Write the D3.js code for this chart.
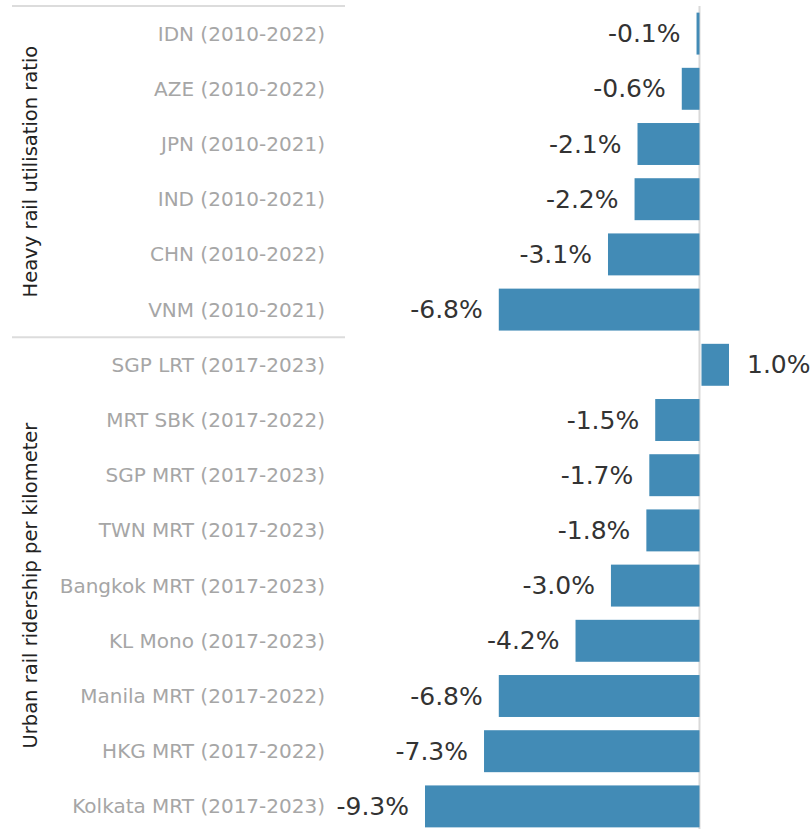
<!DOCTYPE html>
<html>
<head>
<meta charset="utf-8">
<script src="https://cdn.jsdelivr.net/npm/d3@7"></script>
<style>
  body { margin: 0; background: #fff; }
  svg text { font-family: "DejaVu Sans", sans-serif; }
</style>
</head>
<body>
<div id="chart"></div>
<script>
var WIDTH = 810;
var HEIGHT = 829;

// chart data
var groups = ["Heavy rail utilisation ratio", "Urban rail ridership per kilometer"];
var heavyRail = ["IDN (2010-2022)", "AZE (2010-2022)", "JPN (2010-2021)",
  "IND (2010-2021)", "CHN (2010-2022)", "VNM (2010-2021)"];
var heavyRailValues = [-0.1, -0.6, -2.1, -2.2, -3.1, -6.8];
var urbanRail = ["SGP LRT (2017-2023)", "MRT SBK (2017-2022)", "SGP MRT (2017-2023)",
  "TWN MRT (2017-2023)", "Bangkok MRT (2017-2023)", "KL Mono (2017-2023)",
  "Manila MRT (2017-2022)", "HKG MRT (2017-2022)", "Kolkata MRT (2017-2023)"];
var urbanRailValues = [1.0, -1.5, -1.7, -1.8, -3.0, -4.2, -6.8, -7.3, -9.3];

var rows = [];
heavyRail.forEach(function(name, i) {
  rows.push({ group: groups[0], name: name, value: heavyRailValues[i] });
});
urbanRail.forEach(function(name, i) {
  rows.push({ group: groups[1], name: name, value: urbanRailValues[i] });
});

var svg = d3.select("#chart").append("svg")
  .attr("width", WIDTH)
  .attr("height", HEIGHT);

var x = d3.scaleLinear()
  .domain([-9.3, 1.0])
  .range([425, 729]);

var y = d3.scaleBand()
  .domain(rows.map(function(d) { return d.name; }))
  .range([6, 834])
  .paddingInner(0.24)
  .paddingOuter(0.12);

var step = y.step();

// group separator lines
var groupStarts = [0, heavyRail.length];
var groupSizes = [heavyRail.length, urbanRail.length];
svg.selectAll(".sep")
  .data(groupStarts)
  .enter()
  .append("line")
  .attr("class", "sep")
  .attr("x1", 12)
  .attr("x2", 345)
  .attr("y1", function(d) { return 6 + d * step; })
  .attr("y2", function(d) { return 6 + d * step; })
  .style("stroke", "#dcdcdc")
  .style("stroke-width", 2);

// zero line
svg.append("line")
  .attr("x1", x(0))
  .attr("x2", x(0))
  .attr("y1", 6)
  .attr("y2", HEIGHT)
  .style("stroke", "#d9d9d9")
  .style("stroke-width", 2);

// bars
svg.selectAll(".bar")
  .data(rows)
  .enter()
  .append("rect")
  .attr("class", "bar")
  .attr("x", function(d) { return d.value < 0 ? x(d.value) : x(0) + 2; })
  .attr("width", function(d) { return Math.max(2, Math.abs(x(d.value) - x(0)) - (d.value > 0 ? 2 : 0)); })
  .attr("y", function(d) { return y(d.name); })
  .attr("height", y.bandwidth())
  .style("fill", "#428bb6");

// value labels
svg.selectAll(".value")
  .data(rows)
  .enter()
  .append("text")
  .attr("class", "value")
  .attr("x", function(d) { return d.value < 0 ? x(d.value) - 16 : x(d.value) + 18; })
  .attr("y", function(d) { return y(d.name) + y.bandwidth() / 2; })
  .attr("text-anchor", function(d) { return d.value < 0 ? "end" : "start"; })
  .attr("dominant-baseline", "central")
  .style("font-size", "25px")
  .style("fill", "#333")
  .text(function(d) { return d.value.toFixed(1) + "%"; });

// category labels
svg.selectAll(".cat")
  .data(rows)
  .enter()
  .append("text")
  .attr("class", "cat")
  .attr("x", 325)
  .attr("y", function(d) { return y(d.name) + y.bandwidth() / 2; })
  .attr("text-anchor", "end")
  .attr("dominant-baseline", "central")
  .style("font-size", "20px")
  .style("fill", "#a6a6a6")
  .text(function(d) { return d.name; });

// rotated group titles
svg.selectAll(".group")
  .data(groups)
  .enter()
  .append("text")
  .attr("class", "group")
  .attr("transform", function(d, i) {
    var cy = 6 + (groupStarts[i] + groupSizes[i] / 2) * step;
    return "translate(30," + cy + ") rotate(-90)";
  })
  .attr("text-anchor", "middle")
  .attr("dominant-baseline", "central")
  .style("font-size", "19.5px")
  .style("fill", "#222")
  .text(function(d) { return d; });
</script>
</body>
</html>
